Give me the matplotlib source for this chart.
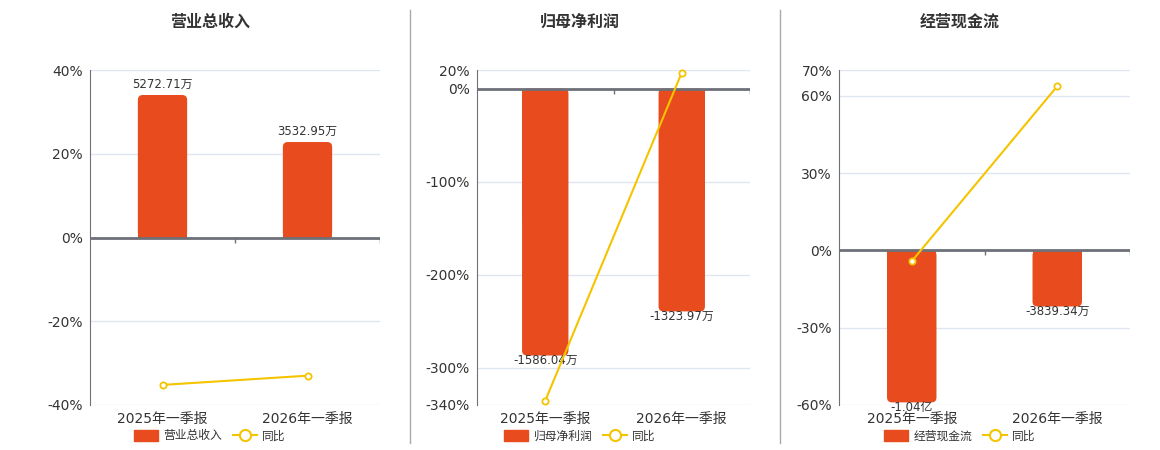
import matplotlib
matplotlib.use('Agg')
import matplotlib.pyplot as plt
from matplotlib.patches import Patch, FancyBboxPatch, Rectangle
from matplotlib.lines import Line2D

plt.rcParams['font.family'] = ['DejaVu Sans', 'Noto Sans CJK SC']

periods = ['2025年一季报', '2026年一季报']

# amounts in 万元, yoy in %
revenue = [5272.71, 3532.95]
revenue_yoy = [-35.2, -33.0]
revenue_text = ['5272.71万', '3532.95万']

profit = [-1586.04, -1323.97]
profit_yoy = [-335.4, 17.1]
profit_text = ['-1586.04万', '-1323.97万']

cashflow = [-10400.0, -3839.34]
cashflow_yoy = [-4.2, 63.7]
cashflow_text = ['-1.04亿', '-3839.34万']

titles = ['营业总收入', '归母净利润', '经营现金流']
pct_ticks = [[-40, -20, 0, 20, 40],
             [-340, -300, -200, -100, 0, 20],
             [-60, -30, 0, 30, 60, 70]]

BAR = '#E84C1E'
LINE = '#F5C400'
AXIS = '#6E7079'
GRID = '#E0E6F1'
TXT = '#333333'

W, H = 1160, 450
fig = plt.figure(figsize=(W / 100, H / 100), dpi=100)

# axes rectangles in pixels: left, right; top/bottom shared
axes_px = [(90, 380), (477, 750), (839, 1130)]
centers_px = [210, 580, 960]
top_px, bot_px = 70, 405
# lowest value of the hidden bar scale (aligned to the percent scale)
bar_min = [-6198, -1880, -10578]
bar_w = 0.34
radius_px = 5

panels = [(revenue, revenue_yoy, revenue_text),
          (profit, profit_yoy, profit_text),
          (cashflow, cashflow_yoy, cashflow_text)]

for i, (vals, yoy, texts) in enumerate(panels):
    x0, x1 = axes_px[i]
    rect = [x0 / W, 1 - bot_px / H, (x1 - x0) / W, (bot_px - top_px) / H]
    ax = fig.add_axes(rect)
    lo, hi = pct_ticks[i][0], pct_ticks[i][-1]
    ax.set_ylim(lo, hi)
    ax.set_xlim(-0.5, 1.5)
    ax.set_yticks(pct_ticks[i], [f'{t}%' for t in pct_ticks[i]])
    ax.set_xticks([0, 1], periods)
    ax.tick_params(axis='y', length=0, pad=5, labelsize=10, labelcolor=TXT)
    ax.tick_params(axis='x', length=0, pad=5, labelsize=10, labelcolor=TXT)
    ax.yaxis.grid(True, color=GRID, lw=1)
    ax.set_axisbelow(True)
    for sp in ['top', 'right', 'bottom']:
        ax.spines[sp].set_visible(False)
    ax.spines['left'].set_color(AXIS)

    # bars on a hidden scale whose zero matches the percent zero
    axb = ax.twinx()
    bmin = bar_min[i]
    bmax = bmin * hi / lo
    axb.set_ylim(bmin, bmax)
    axb.set_xlim(-0.5, 1.5)
    axb.axis('off')
    x_per_px = 2.0 / (x1 - x0)
    y_per_px = (bmax - bmin) / (bot_px - top_px)
    for k, (v, t) in enumerate(zip(vals, texts)):
        left = k - bar_w / 2
        y0, hgt = min(0, v), abs(v)
        # rounded bar, then square off the end that sits on the zero line
        axb.add_patch(FancyBboxPatch(
            (left, y0), bar_w, hgt,
            boxstyle=f'round,pad=0,rounding_size={radius_px * x_per_px}',
            mutation_aspect=y_per_px / x_per_px,
            facecolor=BAR, edgecolor='none', zorder=2))
        axb.add_patch(Rectangle((left, v / 2 if v < 0 else 0), bar_w, hgt / 2,
                                facecolor=BAR, edgecolor='none', zorder=2))
        if v >= 0:
            axb.annotate(t, (k, v), xytext=(0, 3), textcoords='offset points',
                         ha='center', va='bottom', fontsize=8.5, color=TXT)
        else:
            axb.annotate(t, (k, v), xytext=(0, 1), textcoords='offset points',
                         ha='center', va='top', fontsize=8.5, color=TXT,
                         zorder=5)

    # yoy line + zero axis line on top
    axl = ax.twinx()
    axl.set_ylim(lo, hi)
    axl.axis('off')
    axl.axhline(0, color=AXIS, lw=2, zorder=3)
    tick_len = (hi - lo) * 5 / (bot_px - top_px)
    axl.vlines([0.5, 1.5], -tick_len, 0, color=AXIS, lw=1)
    axl.plot(range(len(yoy)), yoy, color=LINE, lw=1.5, marker='o', ms=4.5,
             mfc='white', mec=LINE, mew=1.3, zorder=4, clip_on=False)

    fig.text(centers_px[i] / W, 1 - 22 / H, titles[i], ha='center', va='center',
             fontsize=11.5, fontweight='bold', color=TXT)

    handles = [Patch(facecolor=BAR, edgecolor=BAR),
               Line2D([], [], color=LINE, lw=1.5, marker='o', ms=8,
                      mfc='white', mec=LINE, mew=1.5)]
    fig.legend(handles, [titles[i], '同比'], loc='center',
               bbox_to_anchor=(centers_px[i] / W, 1 - 436 / H), ncol=2,
               frameon=False, fontsize=8.5, handlelength=2.0, handleheight=1.0,
               handletextpad=0.5, columnspacing=0.9, borderpad=0,
               labelcolor=TXT)

# panel separators
for xs in [410, 780]:
    fig.add_artist(Line2D([xs / W, xs / W], [1 - 10 / H, 1 - 443 / H],
                          color='#AAAAAA', lw=1, transform=fig.transFigure))

fig.savefig('out.png', dpi=100)
